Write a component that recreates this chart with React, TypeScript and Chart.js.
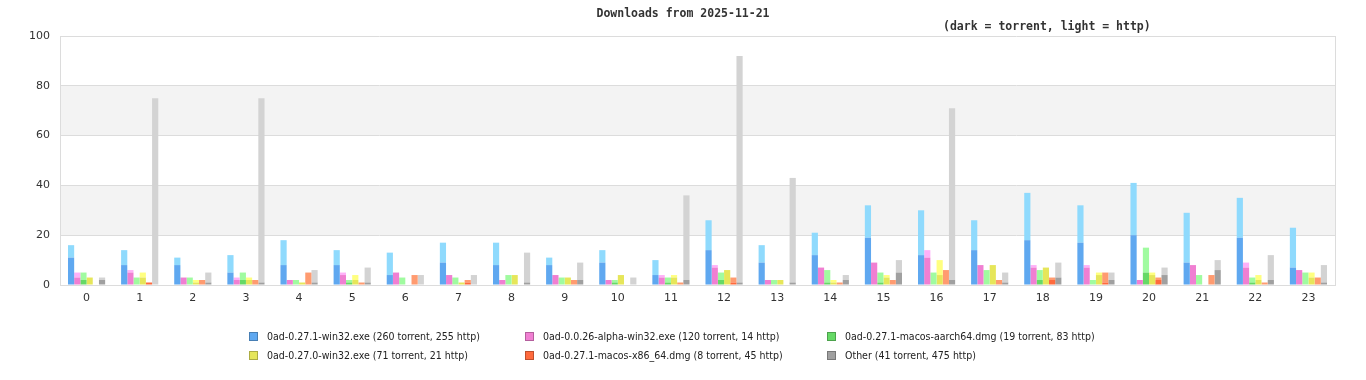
import React, { useEffect, useRef } from "react";
import { Chart, registerables } from "chart.js";

Chart.register(...registerables);

const hours = ["0","1","2","3","4","5","6","7","8","9","10","11","12","13","14","15","16","17","18","19","20","21","22","23"];

const fileNames = [
  "0ad-0.27.1-win32.exe",
  "0ad-0.0.26-alpha-win32.exe",
  "0ad-0.27.1-macos-aarch64.dmg",
  "0ad-0.27.0-win32.exe",
  "0ad-0.27.1-macos-x86_64.dmg",
  "Other",
];

const win32Torrent = [11,8,8,5,8,8,4,9,8,8,9,4,14,9,12,19,12,14,18,17,20,9,19,7];
const win32Http = [5,6,3,7,10,6,9,8,9,3,5,6,12,7,9,13,18,12,19,15,21,20,16,16];
const alphaTorrent = [3,5,3,2,2,4,5,4,2,4,2,3,7,2,7,9,11,8,7,7,2,8,7,6];
const alphaHttp = [2,1,0,1,0,1,0,0,0,0,0,1,1,0,0,0,3,0,1,1,0,0,2,0];
const aarchTorrent = [2,0,0,2,0,1,0,0,0,0,1,1,2,0,1,1,0,0,2,0,5,0,1,0];
const aarchHttp = [3,3,3,3,2,1,3,3,4,3,1,2,3,2,5,4,5,6,4,2,10,4,2,5];
const win270Torrent = [3,3,1,2,1,2,0,1,4,3,4,3,6,2,1,3,4,8,7,4,4,0,2,3];
const win270Http = [0,2,1,1,0,2,0,0,0,0,0,1,0,0,1,1,6,0,0,1,1,0,2,2];
const x86Torrent = [0,1,0,0,0,0,0,1,0,0,0,0,1,0,0,0,0,0,2,1,2,0,0,0];
const x86Http = [0,0,2,2,5,1,4,1,0,2,0,1,2,0,1,2,6,2,1,4,1,4,1,3];
const otherTorrent = [2,0,1,1,1,1,0,0,1,2,0,2,1,1,2,5,2,1,3,2,4,6,2,1];
const otherHttp = [1,75,4,74,5,6,4,4,12,7,3,34,91,42,2,5,69,4,6,3,3,4,10,7];

const yTicks = [0, 20, 40, 60, 80, 100];

const darkColors = ["#5fa8f0", "#f07fd2", "#66d966", "#e6e65a", "#ff6a3d", "#a0a0a0"];
const lightColors = ["#8fdafd", "#ffb0f8", "#a0fba0", "#ffff80", "#ff9b70", "#d3d3d3"];

const torrentSeries = [win32Torrent, alphaTorrent, aarchTorrent, win270Torrent, x86Torrent, otherTorrent];
const httpSeries = [win32Http, alphaHttp, aarchHttp, win270Http, x86Http, otherHttp];

const sum = (a: number[]) => a.reduce((s, v) => s + v, 0);

const bandsPlugin = {
  id: "bands",
  beforeDraw(chart: any) {
    const { ctx, chartArea, scales } = chart;
    const y = scales.y;
    ctx.save();
    ctx.fillStyle = "#f3f3f3";
    for (let i = 0; i < yTicks.length - 1; i++) {
      if (i % 2 === 1) {
        const top = y.getPixelForValue(yTicks[i + 1]);
        const bot = y.getPixelForValue(yTicks[i]);
        ctx.fillRect(chartArea.left, top, chartArea.right - chartArea.left, bot - top);
      }
    }
    ctx.strokeStyle = "#dcdcdc";
    ctx.lineWidth = 1;
    ctx.beginPath();
    ctx.moveTo(chartArea.right + 0.5, chartArea.top);
    ctx.lineTo(chartArea.right + 0.5, chartArea.bottom);
    ctx.stroke();
    ctx.restore();
  },
};

export default function App() {
  const ref = useRef<HTMLCanvasElement | null>(null);

  useEffect(() => {
    if (!ref.current) return;
    const datasets: any[] = [];
    fileNames.forEach((name, i) => {
      datasets.push({
        label: name + " torrent",
        data: torrentSeries[i],
        backgroundColor: darkColors[i],
        stack: "g" + i,
        categoryPercentage: 0.7,
        barPercentage: 1.0,
      });
      datasets.push({
        label: name + " http",
        data: httpSeries[i],
        backgroundColor: lightColors[i],
        stack: "g" + i,
        categoryPercentage: 0.7,
        barPercentage: 1.0,
      });
    });
    const chart = new Chart(ref.current, {
      type: "bar",
      data: { labels: hours, datasets },
      options: {
        animation: false,
        responsive: false,
        devicePixelRatio: 1,
        layout: { padding: { top: 36, right: 31, left: 0, bottom: 0 } },
        plugins: { legend: { display: false }, tooltip: { enabled: false }, title: { display: false } },
        scales: {
          x: {
            stacked: true,
            grid: { display: false, drawTicks: false },
            border: { display: true, color: "#dcdcdc" },
            ticks: { color: "#333", font: { family: "DejaVu Sans", size: 11 }, padding: 7 },
            afterFit(scale: any) { scale.height = 95; },
          },
          y: {
            stacked: true,
            min: 0,
            max: 100,
            ticks: { stepSize: 20, color: "#333", font: { family: "DejaVu Sans", size: 11 }, padding: 10 },
            grid: { color: "#dcdcdc", drawTicks: false },
            border: { display: true, color: "#dcdcdc" },
            afterFit(scale: any) { scale.width = 60; },
          },
        },
      },
      plugins: [bandsPlugin],
    });
    return () => chart.destroy();
  }, []);

  const monoBold: React.CSSProperties = {
    position: "absolute",
    fontFamily: "'DejaVu Sans Mono', monospace",
    fontWeight: "bold",
    fontSize: "11.5px",
    color: "#333",
    whiteSpace: "pre",
    lineHeight: "14px",
  };

  return (
    <div style={{ position: "absolute", left: 0, top: 0, width: 1366, height: 380, background: "#fff", overflow: "hidden" }}>
      <canvas ref={ref} width={1366} height={380} style={{ position: "absolute", left: 0, top: 0, width: 1366, height: 380 }} />
      <div style={{ ...monoBold, left: 0, width: 1366, top: 6, textAlign: "center" }}>Downloads from 2025-11-21</div>
      <div style={{ ...monoBold, left: 943, top: 19 }}>(dark = torrent, light = http)</div>
      <div
        style={{
          position: "absolute",
          left: 249,
          top: 329,
          display: "grid",
          gridTemplateColumns: "276px 302px auto",
          rowGap: "5px",
          fontFamily: "'DejaVu Sans Condensed', 'DejaVu Sans', sans-serif",
          fontStretch: "condensed",
          fontSize: "10.5px",
          color: "#222",
          lineHeight: "14px",
        }}
      >
        {fileNames.map((name, i) => (
          <div key={name} style={{ display: "flex", alignItems: "center", whiteSpace: "nowrap" }}>
            <span
              style={{
                display: "inline-block",
                width: 7,
                height: 7,
                background: darkColors[i],
                border: "1px solid rgba(0,0,0,0.25)",
                marginRight: 9,
              }}
            />
            <span>{`${name} (${sum(torrentSeries[i])} torrent, ${sum(httpSeries[i])} http)`}</span>
          </div>
        ))}
      </div>
    </div>
  );
}
